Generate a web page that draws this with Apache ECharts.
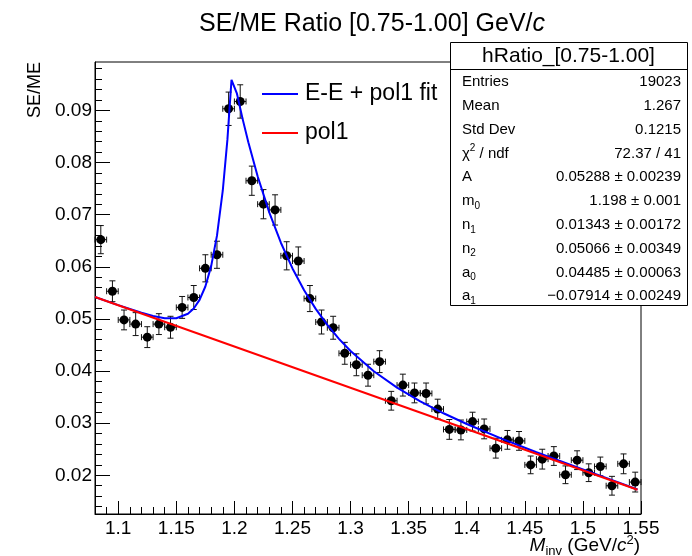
<!DOCTYPE html>
<html>
<head>
<meta charset="utf-8">
<script src="https://cdn.jsdelivr.net/npm/echarts@6/dist/echarts.min.js"></script>
<style>
html,body{margin:0;padding:0;background:#fff;}
#main{width:692px;height:556px;}
</style>
</head>
<body>
<div id="main"></div>
<script>
// ---- data ----
const massBins = [1.085,1.095,1.105,1.115,1.125,1.135,1.145,1.155,1.165,1.175,1.185,1.195,1.205,1.215,1.225,1.235,1.245,1.255,1.265,1.275,1.285,1.295,1.305,1.315,1.325,1.335,1.345,1.355,1.365,1.375,1.385,1.395,1.405,1.415,1.425,1.435,1.445,1.455,1.465,1.475,1.485,1.495,1.505,1.515,1.525,1.535,1.545];
const ratio = [0.0652,0.0553,0.0498,0.0490,0.0465,0.0490,0.0484,0.0522,0.0541,0.0597,0.0623,0.0903,0.0917,0.0765,0.0720,0.0709,0.0621,0.0611,0.0539,0.0494,0.0483,0.0434,0.0412,0.0392,0.0418,0.0343,0.0373,0.0358,0.0357,0.0327,0.0288,0.0287,0.0303,0.0289,0.0252,0.0268,0.0266,0.0220,0.0231,0.0237,0.0201,0.0229,0.0205,0.0217,0.0180,0.0222,0.0187];
const ratioErr = [0.0027,0.0020,0.0019,0.0022,0.0020,0.0020,0.0021,0.0021,0.0023,0.0026,0.0026,0.0032,0.0032,0.0028,0.0028,0.0029,0.0027,0.0027,0.0025,0.0023,0.0022,0.0021,0.0021,0.0021,0.0021,0.0018,0.0021,0.0019,0.0020,0.0019,0.0019,0.0019,0.0018,0.0019,0.0019,0.0018,0.0018,0.0017,0.0019,0.0018,0.0017,0.0018,0.0017,0.0018,0.0018,0.0019,0.0019];
const binHalfWidth = 0.005;

// E-E + pol1 fit curve (blue)
const fitX = [1.08,1.10,1.12,1.13,1.14,1.15,1.16,1.165,1.17,1.175,1.18,1.185,1.19,1.194,1.1975,1.2022,1.207,1.212,1.22,1.23,1.24,1.25,1.26,1.27,1.28,1.29,1.30,1.32,1.34,1.36,1.38,1.40,1.43,1.46,1.50,1.547];
const fitY = [0.05420,0.05264,0.05118,0.05057,0.05014,0.05013,0.05098,0.05199,0.05364,0.05621,0.06012,0.06597,0.07463,0.08443,0.09584,0.09319,0.08841,0.08386,0.07736,0.07044,0.06461,0.05968,0.05550,0.05192,0.04884,0.04617,0.04384,0.03995,0.03682,0.03419,0.03190,0.02984,0.02703,0.02442,0.02113,0.01728];
// pol1 background (red)
const bkgX = [1.08, 1.547];
const bkgY = [0.05419, 0.01723];

const xTickValues = [1.1,1.15,1.2,1.25,1.3,1.35,1.4,1.45,1.5,1.55];
const yTickValues = [0.02,0.03,0.04,0.05,0.06,0.07,0.08,0.09];

const statTitle = 'hRatio_[0.75-1.00]';
const statLabels = ['{n|Entries}','{n|Mean}','{n|Std Dev}','{n|\u03c7}{sup|2}{n| / ndf}','{n|A}','{n|m}{sub|0}','{n|n}{sub|1}','{n|n}{sub|2}','{n|a}{sub|0}','{n|a}{sub|1}'];
const statValues = ['19023','1.267','0.1215','72.37 / 41','0.05288 \u00b1 0.00239','1.198 \u00b1 0.001','0.01343 \u00b1 0.00172','0.05066 \u00b1 0.00349','0.04485 \u00b1 0.00063','\u22120.07914 \u00b1 0.00249'];

const legendNames = ['E-E + pol1 fit', 'pol1'];
const legendColors = ['#0000ff', '#ff0000'];

// ---- chart ----
const FONT = '"Liberation Sans", Arial, Helvetica, sans-serif';
const xMinor = [];
for (let i = 0; i <= 47; i++) xMinor.push(Math.round((1.08 + i * 0.01) * 1000) / 1000);
const yMinor = [];
for (let i = 7; i <= 49; i++) yMinor.push(Math.round(i * 0.002 * 1000) / 1000);

const chart = echarts.init(document.getElementById('main'), null, {renderer: 'canvas'});

const graphics = [];
// legend
legendNames.forEach((name, i) => {
  const y = 94 + i * 39;
  graphics.push({type: 'line', shape: {x1: 262, y1: y, x2: 298, y2: y}, style: {stroke: legendColors[i], lineWidth: 2}, z: 10});
  graphics.push({type: 'text', x: 305, y: y, style: {text: name, fill: '#000', font: '23px ' + FONT, textAlign: 'left', textVerticalAlign: 'middle', align: 'left', verticalAlign: 'middle'}, z: 10});
});
// stats box
const SB = {x: 450, y: 42, w: 237, h: 263};
graphics.push({type: 'rect', shape: {x: SB.x + 0.5, y: SB.y + 0.5, width: SB.w, height: SB.h}, style: {fill: '#fff', stroke: '#000', lineWidth: 1}, z: 20});
graphics.push({type: 'line', shape: {x1: SB.x, y1: 69.5, x2: SB.x + SB.w, y2: 69.5}, style: {stroke: '#000', lineWidth: 1}, z: 21});
graphics.push({type: 'text', x: SB.x + SB.w / 2, y: 56, style: {text: statTitle, fill: '#000', font: '21px ' + FONT, textAlign: 'center', textVerticalAlign: 'middle', align: 'center', verticalAlign: 'middle'}, z: 21});
const richStat = {
  n: {fontSize: 15, fontFamily: FONT, color: '#000', lineHeight: 20, verticalAlign: 'middle'},
  sub: {fontSize: 10, fontFamily: FONT, color: '#000', lineHeight: 10, verticalAlign: 'bottom'},
  sup: {fontSize: 10, fontFamily: FONT, color: '#000', lineHeight: 10, verticalAlign: 'top'}
};
statLabels.forEach((lab, i) => {
  const y = 82 + i * 23.8;
  graphics.push({type: 'text', x: 462, y: y, style: {text: lab, rich: richStat, fill: '#000', font: '15px ' + FONT, textAlign: 'left', textVerticalAlign: 'middle', align: 'left', verticalAlign: 'middle'}, z: 21});
  graphics.push({type: 'text', x: 681, y: y, style: {text: statValues[i], fill: '#000', font: '15px ' + FONT, textAlign: 'right', textVerticalAlign: 'middle', align: 'right', verticalAlign: 'middle'}, z: 21});
});
// y axis title
graphics.push({type: 'text', x: 35, y: 62, rotation: Math.PI / 2, style: {text: 'SE/ME', fill: '#000', font: '18px ' + FONT, textAlign: 'right', textVerticalAlign: 'middle', align: 'right', verticalAlign: 'middle'}, z: 10});
// x axis title
graphics.push({type: 'text', x: 640, y: 546, style: {
  text: '{i|M}{sub|inv}{n| (GeV/}{i|c}{sup|2}{n|)}',
  rich: {
    n: {fontSize: 19, fontFamily: FONT, color: '#000', lineHeight: 24, verticalAlign: 'middle'},
    i: {fontSize: 19, fontFamily: FONT, fontStyle: 'italic', color: '#000', lineHeight: 24, verticalAlign: 'middle'},
    sub: {fontSize: 13, fontFamily: FONT, color: '#000', lineHeight: 13, verticalAlign: 'bottom'},
    sup: {fontSize: 13, fontFamily: FONT, color: '#000', lineHeight: 13, verticalAlign: 'top'}
  },
  textAlign: 'right', textVerticalAlign: 'middle', align: 'right', verticalAlign: 'middle'}, z: 10});

const option = {
  animation: false,
  backgroundColor: '#fff',
  title: {
    text: '{a|SE/ME Ratio [0.75-1.00] GeV/}{b|c}',
    left: 194, top: 7,
    textStyle: {fontWeight: 'normal', rich: {
      a: {fontSize: 25, fontWeight: 'normal', fontFamily: FONT, color: '#000'},
      b: {fontSize: 25, fontWeight: 'normal', fontFamily: FONT, fontStyle: 'italic', color: '#000'}
    }}
  },
  grid: {left: 95, right: 51, top: 62, bottom: 42, show: true, borderColor: '#000', borderWidth: 1, backgroundColor: 'rgba(0,0,0,0)'},
  xAxis: [
    {type: 'value', min: 1.08, max: 1.55, position: 'bottom',
     axisLine: {show: true, onZero: false, lineStyle: {color: '#000', width: 1}},
     splitLine: {show: false},
     axisTick: {show: true, inside: true, length: 13, customValues: xTickValues, lineStyle: {color: '#000'}},
     axisLabel: {show: true, customValues: xTickValues, margin: 5, fontSize: 19, fontFamily: FONT, color: '#000'}},
    {type: 'value', min: 1.08, max: 1.55, position: 'bottom',
     axisLine: {show: false, onZero: false}, splitLine: {show: false},
     axisTick: {show: true, inside: true, length: 7, customValues: xMinor, lineStyle: {color: '#000'}},
     axisLabel: {show: false}}
  ],
  yAxis: [
    {type: 'value', min: 0.01258, max: 0.09927, position: 'left',
     axisLine: {show: true, onZero: false, lineStyle: {color: '#000', width: 1}},
     splitLine: {show: false},
     axisTick: {show: true, inside: true, length: 15, customValues: yTickValues, lineStyle: {color: '#000'}},
     axisLabel: {show: true, customValues: yTickValues, margin: 3, fontSize: 19, fontFamily: FONT, color: '#000'}},
    {type: 'value', min: 0.01258, max: 0.09927, position: 'left',
     axisLine: {show: false, onZero: false}, splitLine: {show: false},
     axisTick: {show: true, inside: true, length: 7, customValues: yMinor, lineStyle: {color: '#000'}},
     axisLabel: {show: false}}
  ],
  series: [
    {
      type: 'custom', name: 'data', xAxisIndex: 0, yAxisIndex: 0, z: 2,
      data: massBins.map((x, i) => [x, ratio[i], ratioErr[i]]),
      encode: {x: 0, y: 1},
      renderItem: function (params, api) {
        const x = api.value(0), y = api.value(1), e = api.value(2);
        const c = api.coord([x, y]);
        const top = api.coord([x, y + e]);
        const bot = api.coord([x, y - e]);
        const lft = api.coord([x - binHalfWidth, y]);
        const rgt = api.coord([x + binHalfWidth, y]);
        const st = {stroke: '#111', lineWidth: 1, fill: null};
        const cap = 3;
        return {type: 'group', children: [
          {type: 'line', shape: {x1: c[0], y1: top[1], x2: c[0], y2: bot[1]}, style: st},
          {type: 'line', shape: {x1: c[0] - cap, y1: top[1], x2: c[0] + cap, y2: top[1]}, style: st},
          {type: 'line', shape: {x1: c[0] - cap, y1: bot[1], x2: c[0] + cap, y2: bot[1]}, style: st},
          {type: 'line', shape: {x1: lft[0], y1: c[1], x2: rgt[0], y2: c[1]}, style: st},
          {type: 'line', shape: {x1: lft[0], y1: c[1] - cap, x2: lft[0], y2: c[1] + cap}, style: st},
          {type: 'line', shape: {x1: rgt[0], y1: c[1] - cap, x2: rgt[0], y2: c[1] + cap}, style: st},
          {type: 'circle', shape: {cx: c[0], cy: c[1], r: 4.5}, style: {fill: '#000', stroke: null}}
        ]};
      }
    },
    {
      type: 'line', name: legendNames[0], z: 3, showSymbol: false, symbol: 'none', smooth: false,
      data: fitX.map((x, i) => [x, fitY[i]]),
      lineStyle: {color: legendColors[0], width: 2}
    },
    {
      type: 'line', name: legendNames[1], z: 4, showSymbol: false, symbol: 'none', smooth: false,
      data: bkgX.map((x, i) => [x, bkgY[i]]),
      lineStyle: {color: legendColors[1], width: 2}
    }
  ],
  graphic: graphics
};
chart.setOption(option);
</script>
</body>
</html>
